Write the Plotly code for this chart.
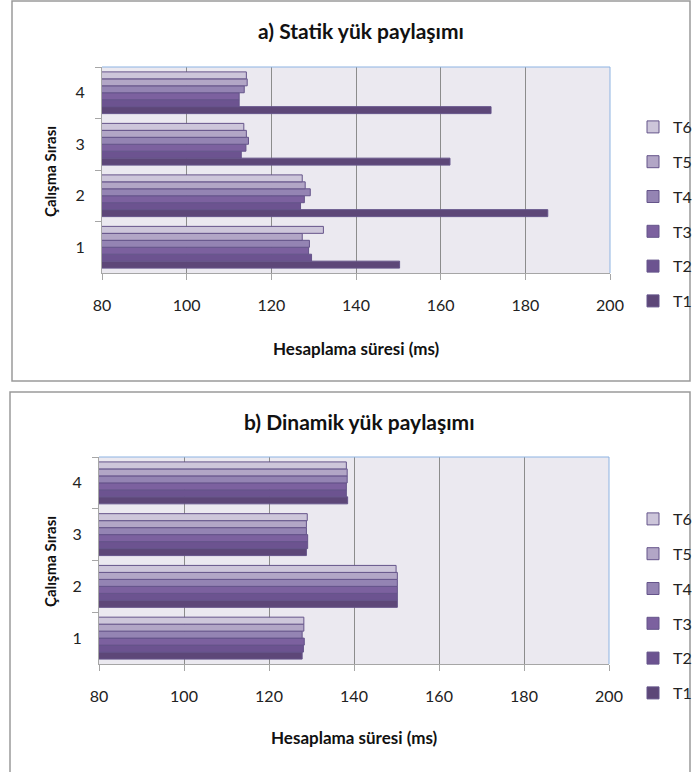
import plotly.graph_objects as go

categories = ["1", "2", "3", "4"]
series_names = ["T1", "T2", "T3", "T4", "T5", "T6"]
colors = ["#5d4778", "#6c5390", "#7c619f", "#9484b3", "#b2a6c6", "#cdc6da"]

static_T1 = [150.3, 185.3, 162.2, 171.9]
static_T2 = [129.5, 126.9, 112.9, 112.4]
static_T3 = [128.8, 127.8, 114.0, 112.4]
static_T4 = [129.0, 129.2, 114.6, 113.6]
static_T5 = [127.3, 128.0, 114.1, 114.3]
static_T6 = [132.3, 127.3, 113.5, 114.1]

dynamic_T1 = [127.8, 150.2, 128.8, 138.5]
dynamic_T2 = [128.1, 150.2, 129.1, 138.2]
dynamic_T3 = [128.3, 150.2, 129.1, 138.2]
dynamic_T4 = [127.8, 150.2, 128.8, 138.4]
dynamic_T5 = [128.2, 150.2, 128.8, 138.4]
dynamic_T6 = [128.2, 149.9, 129.0, 138.2]

x_ticks = [80, 100, 120, 140, 160, 180, 200]

static_series = [static_T1, static_T2, static_T3, static_T4, static_T5, static_T6]
dynamic_series = [dynamic_T1, dynamic_T2, dynamic_T3, dynamic_T4, dynamic_T5, dynamic_T6]

W, H = 699, 772
FONT = "Lato"

fig = go.Figure()

n = len(series_names)
for i, (name, vals) in enumerate(zip(series_names, static_series)):
    fig.add_trace(go.Bar(
        x=vals, y=categories, orientation="h", name=name,
        marker=dict(color=colors[i], line=dict(color="#65548a", width=1)),
        xaxis="x", yaxis="y", legend="legend", legendgroup="a" + name,
        legendrank=n - i,
    ))
for i, (name, vals) in enumerate(zip(series_names, dynamic_series)):
    fig.add_trace(go.Bar(
        x=vals, y=categories, orientation="h", name=name,
        marker=dict(color=colors[i], line=dict(color="#65548a", width=1)),
        xaxis="x2", yaxis="y2", legend="legend2", legendgroup="b" + name,
        legendrank=n - i,
    ))

def px_x(p):
    return p / W

def px_y(p):
    return 1 - p / H

top_plot = dict(l=102, r=610, t=67, b=273)
bot_plot = dict(l=99, r=609, t=457, b=664)

axis_common_x = dict(
    range=[80, 200], tickvals=x_ticks, showgrid=True, gridcolor="#8c8c8c", gridwidth=1,
    showline=True, linecolor="#a6a6a6", linewidth=1, ticks="outside", ticklen=6,
    tickcolor="#a6a6a6", tickfont=dict(family=FONT, size=16, color="#222"),
    ticklabelstandoff=12, zeroline=False, fixedrange=True, automargin=False,
)
axis_common_y = dict(
    type="category", categoryorder="array", categoryarray=categories,
    showline=True, linecolor="#a6a6a6", linewidth=1, ticks="outside", ticklen=6,
    tickcolor="#a6a6a6", tickson="boundaries", showgrid=False,
    tickfont=dict(family=FONT, size=16, color="#222"), ticklabelstandoff=13,
    fixedrange=True, automargin=False,
)

legend_common = dict(xanchor="left", yanchor="top", traceorder="grouped", tracegroupgap=11,
                     font=dict(family=FONT, size=16, color="#222"), bgcolor="rgba(0,0,0,0)",
                     itemwidth=30)

fig.update_layout(
    width=W, height=H, margin=dict(l=0, r=0, t=0, b=0, autoexpand=False),
    paper_bgcolor="white", plot_bgcolor="#ebe9f0",
    barmode="group", bargap=0.19, bargroupgap=0,
    showlegend=True,
    xaxis=dict(domain=[px_x(top_plot["l"]), px_x(top_plot["r"])], anchor="y", **axis_common_x),
    yaxis=dict(domain=[px_y(top_plot["b"]), px_y(top_plot["t"])], anchor="x", **axis_common_y),
    xaxis2=dict(domain=[px_x(bot_plot["l"]), px_x(bot_plot["r"])], anchor="y2", **axis_common_x),
    yaxis2=dict(domain=[px_y(bot_plot["b"]), px_y(bot_plot["t"])], anchor="x2", **axis_common_y),
    legend=dict(x=px_x(633), y=px_y(110), **legend_common),
    legend2=dict(x=px_x(633), y=px_y(502), **legend_common),
)

shapes = []
shapes.append(dict(type="rect", xref="paper", yref="paper",
                   x0=px_x(12), x1=px_x(690), y0=px_y(381), y1=px_y(1),
                   line=dict(color="#9a9a9a", width=1.5)))
shapes.append(dict(type="rect", xref="paper", yref="paper",
                   x0=px_x(10), x1=px_x(690), y0=px_y(775), y1=px_y(392),
                   line=dict(color="#9a9a9a", width=1.5)))
for xa, ya in (("x", "y"), ("x2", "y2")):
    shapes.append(dict(type="line", xref=xa + " domain", yref=ya + " domain",
                       x0=0, x1=1, y0=1, y1=1, line=dict(color="#8db3e2", width=1)))
    shapes.append(dict(type="line", xref=xa + " domain", yref=ya + " domain",
                       x0=1, x1=1, y0=0, y1=1, line=dict(color="#8db3e2", width=1)))
fig.update_layout(shapes=shapes)

def ann(text, x, y, size, angle=0):
    return dict(text=text, x=px_x(x), y=px_y(y), xref="paper", yref="paper",
                xanchor="center", yanchor="middle", showarrow=False, textangle=angle,
                font=dict(family=FONT, size=size, color="#111"))

annotations = [
    ann("<b>a) Statik yük paylaşımı</b>", 361, 30, 21),
    ann("<b>b) Dinamik yük paylaşımı</b>", 359, 421, 21),
    ann("<b>Hesaplama süresi (ms)</b>", 356, 348, 17),
    ann("<b>Hesaplama süresi (ms)</b>", 354, 737, 17),
    ann("<b>Çalışma Sırası</b>", 50, 172, 15, -90),
    ann("<b>Çalışma Sırası</b>", 50, 562, 15, -90),
]
fig.update_layout(annotations=annotations)

fig.write_html("out.html")
